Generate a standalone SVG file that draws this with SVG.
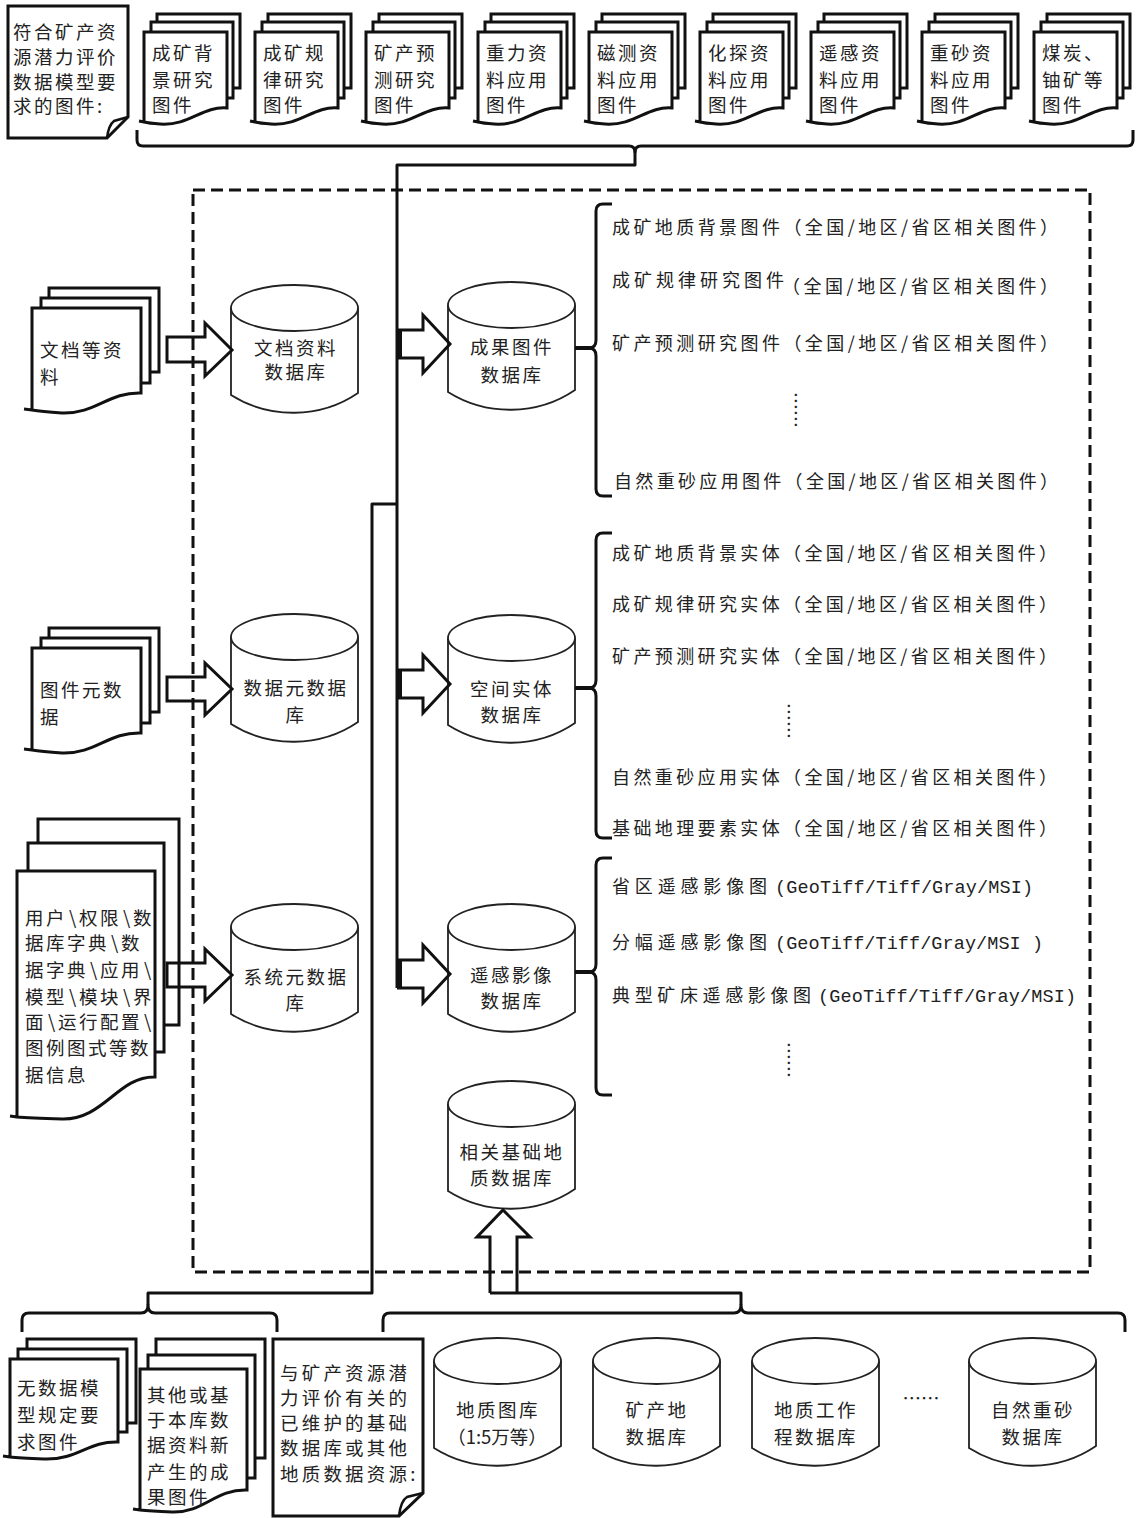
<svg xmlns="http://www.w3.org/2000/svg" width="1140" height="1518" viewBox="0 0 1140 1518">
<style>
.sh{fill:#fff;stroke:#111;stroke-width:3}
.cy{fill:#fff;stroke:#222;stroke-width:1.8}
.ln{fill:none;stroke:#111;stroke-width:3;stroke-linejoin:round}
.fold{fill:none;stroke:#111;stroke-width:2.5}
.ar{fill:none;stroke:#111;stroke-width:3;stroke-linejoin:miter}
.dash{fill:none;stroke:#111;stroke-width:3;stroke-dasharray:12 6}
text{font-family:"Noto Sans CJK SC","Liberation Sans",sans-serif;fill:#222}
.t{font-size:18.5px;letter-spacing:2.5px}
.c{text-anchor:middle}
.r{font-size:18px}
.m{font-family:"Liberation Mono","Noto Sans CJK SC",monospace;font-size:18.5px}
</style>
<defs>
<g id="cyl"><path class="cy" d="M0,23 V110 C38,134 89,134 127,108 V23"/><ellipse class="cy" cx="63.5" cy="23" rx="63.5" ry="23"/></g>
<g id="topstack"><rect class="sh" x="13" y="14" width="83" height="74"/><rect class="sh" x="7" y="22" width="82" height="76"/><path class="sh" d="M0,122 V32 H83 V108 C58,106 46,126 16,124 C9,123.5 4,123 0,122 Z M0,122 L-5,121"/></g>
<g id="leftstack"><rect class="sh" x="49" y="288" width="110" height="84"/><rect class="sh" x="41" y="298" width="109" height="85"/><path class="sh" d="M32,410 V308 H141 V393 C108,392 96,414 62,413 C48,412 38,411 32,410 Z M32,410 L24,409"/></g>
</defs>
<rect width="1140" height="1518" fill="#fff"/>

<g id="boundary"><rect class="dash" x="193" y="190" width="897" height="1082"/></g>

<g id="doc-requirement">
<path class="sh" d="M8,6 H128 V117 L107,138 H8 Z"/>
<path class="fold" d="M107,138 C108,130 110,124 114,121 L128,117"/>
<text class="t" x="13" y="39">符合矿产资</text>
<text class="t" x="13" y="64">源潜力评价</text>
<text class="t" x="13" y="89">数据模型要</text>
<text class="t" x="13" y="113">求的图件:</text>
</g>

<g id="top-1" transform="translate(144,0)"><use href="#topstack"/><text class="t" x="8" y="60">成矿背</text><text class="t" x="8" y="87">景研究</text><text class="t" x="8" y="112">图件</text></g>
<g id="top-2" transform="translate(255,0)"><use href="#topstack"/><text class="t" x="8" y="60">成矿规</text><text class="t" x="8" y="87">律研究</text><text class="t" x="8" y="112">图件</text></g>
<g id="top-3" transform="translate(366,0)"><use href="#topstack"/><text class="t" x="8" y="60">矿产预</text><text class="t" x="8" y="87">测研究</text><text class="t" x="8" y="112">图件</text></g>
<g id="top-4" transform="translate(478,0)"><use href="#topstack"/><text class="t" x="8" y="60">重力资</text><text class="t" x="8" y="87">料应用</text><text class="t" x="8" y="112">图件</text></g>
<g id="top-5" transform="translate(589,0)"><use href="#topstack"/><text class="t" x="8" y="60">磁测资</text><text class="t" x="8" y="87">料应用</text><text class="t" x="8" y="112">图件</text></g>
<g id="top-6" transform="translate(700,0)"><use href="#topstack"/><text class="t" x="8" y="60">化探资</text><text class="t" x="8" y="87">料应用</text><text class="t" x="8" y="112">图件</text></g>
<g id="top-7" transform="translate(811,0)"><use href="#topstack"/><text class="t" x="8" y="60">遥感资</text><text class="t" x="8" y="87">料应用</text><text class="t" x="8" y="112">图件</text></g>
<g id="top-8" transform="translate(922,0)"><use href="#topstack"/><text class="t" x="8" y="60">重砂资</text><text class="t" x="8" y="87">料应用</text><text class="t" x="8" y="112">图件</text></g>
<g id="top-9" transform="translate(1034,0)"><use href="#topstack"/><text class="t" x="8" y="60">煤炭、</text><text class="t" x="8" y="87">铀矿等</text><text class="t" x="8" y="112">图件</text></g>

<g id="src-docs"><use href="#leftstack"/><text class="t" x="40" y="357">文档等资</text><text class="t" x="40" y="384">料</text></g>
<g id="src-meta" transform="translate(0,340)"><use href="#leftstack"/><text class="t" x="40" y="357">图件元数</text><text class="t" x="40" y="384">据</text></g>
<g id="src-system">
<rect class="sh" x="38" y="819" width="141" height="206"/>
<rect class="sh" x="28" y="843" width="136" height="209"/>
<path class="sh" d="M17,1117 V871 H155 V1077 C118,1076 104,1120 62,1119 C44,1118.5 28,1118 17,1117 Z M17,1117 L10,1116"/>
<text class="t" style="letter-spacing:0" x="25 46 69 79 100 123 133" y="925">用户\权限\数</text>
<text class="t" style="letter-spacing:0" x="25 46 67 88 111 121" y="950">据库字典\数</text>
<text class="t" style="letter-spacing:0" x="25 46 67 90 100 121 144" y="977">据字典\应用\</text>
<text class="t" style="letter-spacing:0" x="25 46 69 79 100 123 133" y="1004">模型\模块\界</text>
<text class="t" style="letter-spacing:0" x="25 48 58 79 100 121 144" y="1029">面\运行配置\</text>
<text class="t" x="25" y="1055">图例图式等数</text>
<text class="t" x="25" y="1082">据信息</text>
</g>

<g id="db-docs"><use href="#cyl" x="231" y="285"/><text class="t c" x="296" y="355">文档资料</text><text class="t c" x="296" y="379">数据库</text></g>
<g id="db-metadata"><use href="#cyl" x="231" y="614"/><text class="t c" x="296" y="695">数据元数据</text><text class="t c" x="296" y="722">库</text></g>
<g id="db-system"><use href="#cyl" x="231" y="904"/><text class="t c" x="296" y="984">系统元数据</text><text class="t c" x="296" y="1010">库</text></g>
<g id="db-results"><use href="#cyl" x="448" y="282"/><text class="t c" x="512" y="354">成果图件</text><text class="t c" x="512" y="382">数据库</text></g>
<g id="db-spatial"><use href="#cyl" x="448" y="615"/><text class="t c" x="512" y="696">空间实体</text><text class="t c" x="512" y="722">数据库</text></g>
<g id="db-rs"><use href="#cyl" x="448" y="904"/><text class="t c" x="512" y="982">遥感影像</text><text class="t c" x="512" y="1008">数据库</text></g>
<g id="db-basegeo"><use href="#cyl" x="448" y="1081"/><text class="t c" x="512" y="1159">相关基础地</text><text class="t c" x="512" y="1185">质数据库</text></g>

<g id="list-results">
<text class="r" x="612" y="234" textLength="446" lengthAdjust="spacing">成矿地质背景图件（全国/地区/省区相关图件）</text>
<text class="r" x="612" y="287" textLength="172" lengthAdjust="spacing">成矿规律研究图件</text>
<text class="r" x="782" y="293" textLength="276" lengthAdjust="spacing">（全国/地区/省区相关图件）</text>
<text class="r" x="612" y="350" textLength="446" lengthAdjust="spacing">矿产预测研究图件（全国/地区/省区相关图件）</text>
<text class="r c" x="797" y="410" dominant-baseline="central" transform="rotate(90 797 410)">……</text>
<text class="r" x="614" y="488" textLength="444" lengthAdjust="spacing">自然重砂应用图件（全国/地区/省区相关图件）</text>
</g>
<g id="list-spatial">
<text class="r" x="612" y="560" textLength="445" lengthAdjust="spacing">成矿地质背景实体（全国/地区/省区相关图件）</text>
<text class="r" x="612" y="611" textLength="445" lengthAdjust="spacing">成矿规律研究实体（全国/地区/省区相关图件）</text>
<text class="r" x="612" y="663" textLength="445" lengthAdjust="spacing">矿产预测研究实体（全国/地区/省区相关图件）</text>
<text class="r c" x="790" y="721" dominant-baseline="central" transform="rotate(90 790 721)">……</text>
<text class="r" x="612" y="784" textLength="445" lengthAdjust="spacing">自然重砂应用实体（全国/地区/省区相关图件）</text>
<text class="r" x="612" y="835" textLength="445" lengthAdjust="spacing">基础地理要素实体（全国/地区/省区相关图件）</text>
</g>
<g id="list-rs">
<text class="r" x="612" y="893" textLength="155" lengthAdjust="spacing">省区遥感影像图</text>
<text class="m" x="775" y="893" textLength="258" lengthAdjust="spacing">(GeoTiff/Tiff/Gray/MSI)</text>
<text class="r" x="612" y="949" textLength="155" lengthAdjust="spacing">分幅遥感影像图</text>
<text class="m" x="775" y="949" textLength="268" lengthAdjust="spacing">(GeoTiff/Tiff/Gray/MSI )</text>
<text class="r" x="612" y="1002" textLength="199" lengthAdjust="spacing">典型矿床遥感影像图</text>
<text class="m" x="818" y="1002" textLength="258" lengthAdjust="spacing">(GeoTiff/Tiff/Gray/MSI)</text>
<text class="r c" x="790" y="1060" dominant-baseline="central" transform="rotate(90 790 1060)">……</text>
</g>

<g id="doc-nomodel">
<rect class="sh" x="27" y="1339" width="109" height="84"/>
<rect class="sh" x="18" y="1349" width="109" height="83"/>
<path class="sh" d="M10,1457 V1359 H118 V1442 C88,1441 78,1460 44,1459 C30,1458.5 18,1458 10,1457 Z M10,1457 L3,1456"/>
<text class="t" x="17" y="1395">无数据模</text>
<text class="t" x="17" y="1422">型规定要</text>
<text class="t" x="17" y="1449">求图件</text>
</g>
<g id="doc-new">
<rect class="sh" x="156" y="1339" width="109" height="119"/>
<rect class="sh" x="148" y="1355" width="107" height="123"/>
<path class="sh" d="M140,1510 V1369 H247 V1490 C215,1489 204,1513 172,1512 C158,1511.5 148,1511 140,1510 Z M140,1510 L133,1509"/>
<text class="t" x="147" y="1402">其他或基</text>
<text class="t" x="147" y="1427">于本库数</text>
<text class="t" x="147" y="1452">据资料新</text>
<text class="t" x="147" y="1479">产生的成</text>
<text class="t" x="147" y="1504">果图件</text>
</g>
<g id="doc-maintained">
<path class="sh" d="M273,1339 H423 V1493 L399,1516 H273 Z"/>
<path class="fold" d="M399,1516 C400,1507 402,1500 407,1497 L423,1493"/>
<text class="t" x="280" y="1380" style="letter-spacing:3.2px">与矿产资源潜</text>
<text class="t" x="280" y="1405" style="letter-spacing:3.2px">力评价有关的</text>
<text class="t" x="280" y="1430" style="letter-spacing:3.2px">已维护的基础</text>
<text class="t" x="280" y="1455" style="letter-spacing:3.2px">数据库或其他</text>
<text class="t" x="280" y="1481" style="letter-spacing:3.2px">地质数据资源:</text>
</g>

<g id="db-geomap"><use href="#cyl" x="434" y="1338"/><text class="t c" x="498" y="1417">地质图库</text><text class="t c" x="497" y="1444" style="letter-spacing:0">（1:5万等）</text></g>
<g id="db-mineral"><use href="#cyl" x="593" y="1338"/><text class="t c" x="657" y="1417">矿产地</text><text class="t c" x="657" y="1444">数据库</text></g>
<g id="db-geowork"><use href="#cyl" x="752" y="1338"/><text class="t c" x="816" y="1417">地质工作</text><text class="t c" x="816" y="1444">程数据库</text></g>
<g id="ellipsis-bottom"><text class="t c" x="921" y="1397" dominant-baseline="central" style="letter-spacing:0">……</text></g>
<g id="db-heavysand"><use href="#cyl" x="969" y="1338"/><text class="t c" x="1033" y="1417">自然重砂</text><text class="t c" x="1033" y="1444">数据库</text></g>

<g id="connectors">
<path class="ln" d="M137,130 V140 Q137,146 143,146 H629 Q635,146 635,152 Q635,146 641,146 H1127 Q1133,146 1133,140 V130"/>
<path class="ln" d="M635,150 V165 H397 V988"/>
<path class="ln" d="M397,504 H372 V1293 H148 V1305"/>
<path class="ln" d="M22,1332 V1320 Q22,1313 29,1313 H141 Q148,1313 148,1305 Q148,1313 155,1313 H270 Q277,1313 277,1320 V1332"/>
<path class="ln" d="M383,1332 V1320 Q383,1313 390,1313 H734 Q741,1313 741,1305 Q741,1313 748,1313 H1118 Q1125,1313 1125,1320 V1332"/>
<path class="ln" d="M741,1305 V1293 H490"/>
<path class="ar" d="M490,1293 V1237 H477 L503,1210 L530,1237 H517 V1293"/>
<path class="ar" d="M167,337 H205 V323 L232,350 L205,376 V362 H167 Z"/>
<path class="ar" d="M167,677 H205 V663 L232,689 L205,715 V701 H167 Z"/>
<path class="ar" d="M167,963 H205 V949 L232,975 L205,1001 V987 H167 Z"/>
<path class="ar" d="M397,330 H423 V315 L450,344 L423,373 V358 H397"/>
<path class="ar" d="M397,670 H423 V655 L450,684 L423,713 V698 H397"/>
<path class="ar" d="M397,960 H423 V945 L450,974 L423,1003 V988 H397"/>
<rect x="396" y="330" width="6" height="28" fill="#111"/>
<rect x="396" y="670" width="6" height="28" fill="#111"/>
<rect x="396" y="960" width="6" height="28" fill="#111"/>
<path class="ln" d="M612,204 H603 Q596,204 596,211 V340 Q596,348 589,348 Q596,348 596,356 V489 Q596,496 603,496 H612"/>
<path class="ln" d="M575,348 H591" style="stroke-width:4"/>
<path class="ln" d="M612,533 H603 Q596,533 596,540 V680 Q596,688 589,688 Q596,688 596,696 V831 Q596,838 603,838 H612"/>
<path class="ln" d="M575,688 H591" style="stroke-width:4"/>
<path class="ln" d="M612,858 H603 Q596,858 596,865 V964 Q596,972 589,972 Q596,972 596,980 V1088 Q596,1095 603,1095 H612"/>
<path class="ln" d="M575,972 H591" style="stroke-width:4"/>
</g>
</svg>
